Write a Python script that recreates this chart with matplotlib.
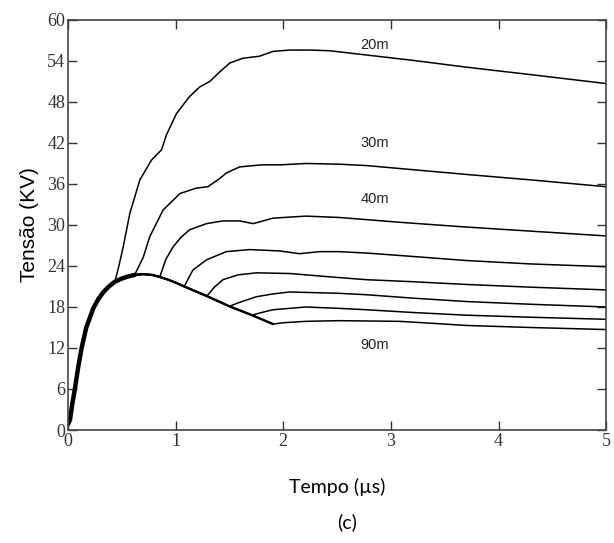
import numpy as np
import matplotlib.pyplot as plt

# Common rising/falling envelope (t in us, v in kV)
env_t = [0.0, 0.019, 0.04, 0.065, 0.095, 0.127, 0.17, 0.235, 0.28, 0.33, 0.38, 0.436, 0.49,
         0.544, 0.62, 0.70, 0.78, 0.853, 0.93, 1.01, 1.08, 1.29, 1.50, 1.71, 1.905]
env_v = [0.8, 1.5, 3.8, 6.1, 9.2, 12.0, 15.0, 17.8, 19.1, 20.2, 21.0, 21.7, 22.1,
         22.4, 22.7, 22.8, 22.7, 22.4, 22.0, 21.5, 21.0, 19.6, 18.1, 16.8, 15.5]

# Each curve leaves the envelope at its own point and follows its own tail
names = ['20m', '30m', '40m', '50m', '60m', '70m', '80m', '90m']
depart = [0.436, 0.66, 0.853, 1.08, 1.29, 1.50, 1.71, 1.905]

tail_t = {
    '20m': [0.47, 0.513, 0.575, 0.668, 0.776, 0.869, 0.915, 1.008, 1.13, 1.224, 1.317, 1.41,
            1.503, 1.626, 1.78, 1.905, 2.06, 2.25, 2.43, 2.65, 3.2, 3.70, 4.3, 5.0],
    '30m': [0.70, 0.76, 0.884, 1.04, 1.194, 1.30, 1.41, 1.47, 1.595, 1.66, 1.80, 1.97, 2.21,
            2.52, 2.77, 3.2, 3.70, 4.3, 5.0],
    '40m': [0.91, 0.977, 1.05, 1.13, 1.287, 1.44, 1.595, 1.72, 1.905, 2.21, 2.52, 3.08, 3.7,
            4.3, 5.0],
    '50m': [1.13, 1.16, 1.287, 1.47, 1.69, 1.97, 2.15, 2.34, 2.52, 2.77, 3.2, 3.70, 4.3, 5.0],
    '60m': [1.36, 1.44, 1.58, 1.75, 2.06, 2.52, 2.77, 3.2, 3.70, 4.3, 5.0],
    '70m': [1.58, 1.75, 1.9, 2.06, 2.52, 2.77, 3.2, 3.70, 4.3, 5.0],
    '80m': [1.80, 1.905, 2.21, 2.52, 2.77, 3.2, 3.70, 4.3, 5.0],
    '90m': [2.0, 2.21, 2.52, 3.08, 3.4, 3.70, 4.3, 5.0],
}
tail_v = {
    '20m': [23.8, 26.8, 31.7, 36.6, 39.5, 41.0, 43.2, 46.3, 48.8, 50.2, 51.0, 52.4,
            53.7, 54.4, 54.7, 55.4, 55.6, 55.6, 55.5, 55.1, 54.1, 53.1, 52.0, 50.7],
    '30m': [25.3, 28.3, 32.2, 34.6, 35.4, 35.6, 36.8, 37.6, 38.5, 38.6, 38.8, 38.8, 39.0,
            38.9, 38.7, 38.1, 37.4, 36.6, 35.6],
    '40m': [25.0, 26.8, 28.2, 29.3, 30.2, 30.6, 30.6, 30.2, 31.0, 31.3, 31.1, 30.4, 29.7,
            29.1, 28.4],
    '50m': [22.5, 23.4, 24.9, 26.1, 26.4, 26.2, 25.8, 26.1, 26.1, 25.9, 25.4, 24.8, 24.3, 23.9],
    '60m': [20.9, 22.0, 22.7, 23.0, 22.9, 22.3, 22.0, 21.7, 21.3, 20.9, 20.5],
    '70m': [18.6, 19.5, 19.9, 20.2, 20.0, 19.8, 19.3, 18.8, 18.4, 18.0],
    '80m': [17.2, 17.6, 18.0, 17.8, 17.6, 17.2, 16.8, 16.5, 16.2],
    '90m': [15.7, 15.9, 16.0, 15.9, 15.6, 15.3, 15.0, 14.7],
}

# Labels for selected curves
label_names = ['20m', '30m', '40m', '90m']
label_t = [2.85, 2.85, 2.85, 2.85]
label_v = [56.3, 42.0, 33.8, 12.4]

x_ticks = [0, 1, 2, 3, 4, 5]
y_ticks = [0, 6, 12, 18, 24, 30, 36, 42, 48, 54, 60]

fig = plt.figure(figsize=(6.14, 5.43), dpi=100)
ax = fig.add_axes([0.1107, 0.2081, 0.8765, 0.7551])

env_t_arr = np.array(env_t)
env_v_arr = np.array(env_v)
for name, d in zip(names, depart):
    keep = env_t_arr <= d + 1e-9
    t = np.concatenate([env_t_arr[keep], tail_t[name]])
    v = np.concatenate([env_v_arr[keep], tail_v[name]])
    ax.plot(t, v, color='black', linewidth=1.1, solid_joinstyle='round')

# thicker look of the overlapping rising part
rise = env_t_arr <= 0.62
ax.plot(env_t_arr[rise], env_v_arr[rise], color='black', linewidth=3.2, solid_capstyle='round')
fall = env_t_arr >= 0.544
ax.plot(env_t_arr[fall], env_v_arr[fall], color='black', linewidth=1.7, solid_capstyle='round')

for name, t, v in zip(label_names, label_t, label_v):
    ax.text(t, v, name, fontsize=10.5, family='Liberation Sans', ha='center', va='center',
            color='#222222')

ax.set_xlim(0, 5)
ax.set_ylim(0, 60)
ax.set_xticks(x_ticks)
ax.set_yticks(y_ticks)
ax.tick_params(direction='in', length=6.5, width=1, top=True, right=True, pad=2,
               labelsize=13, colors='#333333')
for lab in ax.get_xticklabels() + ax.get_yticklabels():
    lab.set_family('Liberation Serif')
for sp in ax.spines.values():
    sp.set_linewidth(1.2)
    sp.set_color('#444444')

ax.set_ylabel('Tensão (KV)', fontsize=15, family='Liberation Sans', labelpad=6)
ax.set_xlabel('Tempo (µs)', fontsize=14, family='Lato', labelpad=20)
fig.text(0.565, 0.038, '(c)', fontsize=14, family='Lato', ha='center', va='center')

fig.savefig('out.png', dpi=100, facecolor='white')
